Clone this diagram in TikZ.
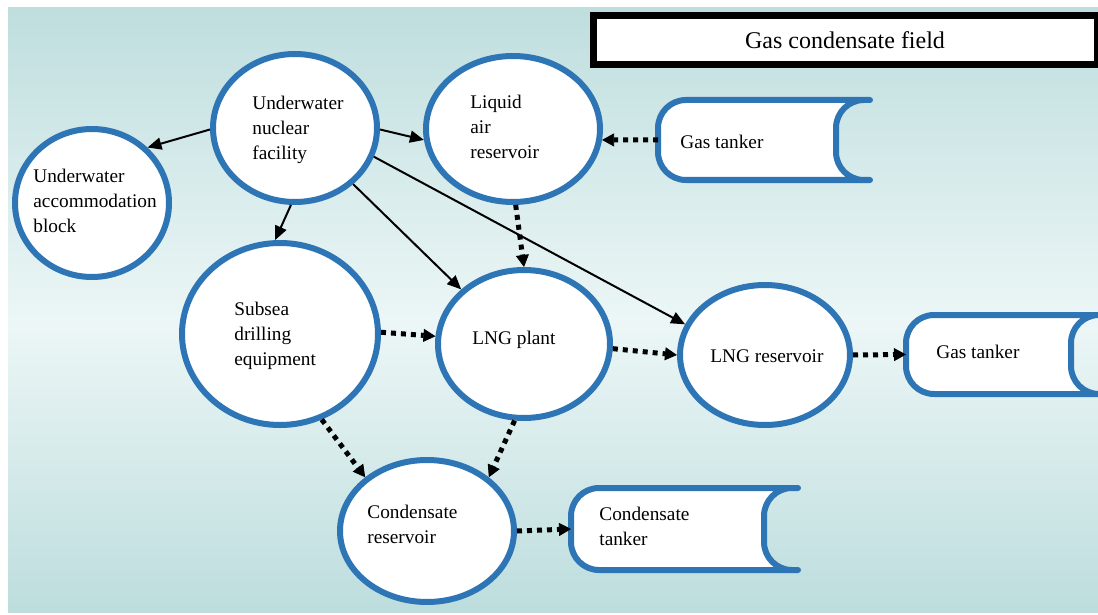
\documentclass[tikz,border=0pt]{standalone}
\usepackage{fontspec}
\setmainfont{Liberation Serif}
\usetikzlibrary{shapes.geometric,arrows.meta}
\definecolor{ringblue}{RGB}{46,117,182}
\definecolor{bgtop}{RGB}{191,222,222}
\definecolor{bgmid}{RGB}{236,246,246}
\definecolor{bgbot}{RGB}{189,221,221}
\tikzset{
  ring/.style={ellipse, draw=ringblue, fill=white, line width=3pt, inner sep=0pt},
  lbl/.style={anchor=west, align=left, inner sep=0pt, font=\fontsize{9.65}{12.5}\selectfont},
  tankbox/.style={rectangle, inner sep=0pt, outer sep=0pt},
  tankline/.style={draw=ringblue, fill=white, line width=3pt, line join=round},
  flow/.style={line width=1pt, -{Triangle[length=7pt,width=6pt]}},
  dotflow/.style={line width=2.5pt, dash pattern=on 2.5pt off 2.5pt, -{Triangle[length=6pt,width=6.5pt,line width=0.4pt]}},
}
\newcommand\tankpath[1]{%
  \path[tankline] (#1.north east) -- ([xshift=14pt]#1.north west)
    arc[start angle=90,end angle=180,radius=14pt] -- ([yshift=14pt]#1.south west)
    arc[start angle=180,end angle=270,radius=14pt] -- (#1.south east)
    -- ([xshift=-3pt]#1.south east)
    arc[start angle=270,end angle=180,radius=14pt] -- ([xshift=-17pt,yshift=-14pt]#1.north east)
    arc[start angle=180,end angle=90,radius=14pt] -- cycle;}
\begin{document}
\begin{tikzpicture}[x=0.5pt,y=-0.5pt]
\useasboundingbox (0,0) rectangle (1098,615);
\fill[white] (0,0) rectangle (1098,615);
% background gradient (top teal -> pale -> bottom teal)
\foreach \i in {0,...,100}{
  \fill[bgmid!\i!bgtop] (8,{7+\i*3.13}) rectangle (1098,{7+(\i+1)*3.13+0.6});
}
\foreach \i in {0,...,100}{
  \fill[bgbot!\i!bgmid] (8,{323+\i*2.87}) rectangle (1098,{323+(\i+1)*2.87+0.6});
}

% title
\node[draw=black, line width=3.5pt, fill=white, minimum width=252pt, minimum height=24.5pt, inner sep=0pt,
      font=\fontsize{12}{14}\selectfont] (title) at (845,40) {Gas condensate field};

% circles
\node[ring, minimum width=82pt, minimum height=74pt] (nuc) at (295,128) {};
\node[ring, minimum width=77pt, minimum height=74pt] (acc) at (92,203) {};
\node[ring, minimum width=87pt, minimum height=73pt] (air) at (513,129) {};
\node[ring, minimum width=98pt, minimum height=91pt] (sub) at (280,334) {};
\node[ring, minimum width=86pt, minimum height=74pt] (lngp) at (524,344) {};
\node[ring, minimum width=85pt, minimum height=70pt] (lngr) at (765,355) {};
\node[ring, minimum width=87pt, minimum height=71pt] (cond) at (427,531) {};

% tankers
\node[tankbox, minimum width=106pt, minimum height=40pt] (gas1) at (764,140) {};
\tankpath{gas1}
\node[tankbox, minimum width=99.5pt, minimum height=39.5pt] (gas2) at (1005.5,354.5) {};
\tankpath{gas2}
\node[tankbox, minimum width=113.5pt, minimum height=41pt] (ctank) at (684.5,529) {};
\tankpath{ctank}

% labels
\node[lbl] (nuct) at (252,130) {Underwater\\nuclear\\facility};
\node[lbl] (acct) at (33,201) {Underwater\\accommodation\\block};
\node[lbl] (airt) at (470,127) {Liquid\\air\\reservoir};
\node[lbl] (subt) at (234,336) {Subsea\\drilling\\equipment};
\node[lbl] (lngpt) at (472,340) {LNG plant};
\node[lbl] (lngrt) at (710,356) {LNG reservoir};
\node[lbl] (condt) at (367,524) {Condensate\\reservoir};
\node[lbl] (gas1t) at (680,142) {Gas tanker};
\node[lbl] (gas2t) at (936,352) {Gas tanker};
\node[lbl] (ctankt) at (599,526) {Condensate\\tanker};

% solid arrows
\draw[flow] (nuc.181) -- (acc.45);
\draw[flow] (nuc.-1) -- (air.187);
\draw[flow] (nuc.267) -- (sub.93);
\draw[flow] (nuc.-44) -- (lngp.139);
\draw[flow] (nuc.-20) -- (lngr.159);

% dotted arrows
\draw[dotflow] (gas1.west) -- (air.-7);
\draw[dotflow] (air.272) -- (lngp.north);
\draw[dotflow] (sub.1) -- (lngp.175);
\draw[dotflow] (lngp.-3) -- (lngr.180);
\draw[dotflow] (lngr.0) -- (gas2.west);
\draw[dotflow] (sub.-64) -- (cond.139);
\draw[dotflow] (lngp.263) -- (cond.41);
\draw[dotflow] (cond.0) -- (ctank.west);
\end{tikzpicture}
\end{document}
